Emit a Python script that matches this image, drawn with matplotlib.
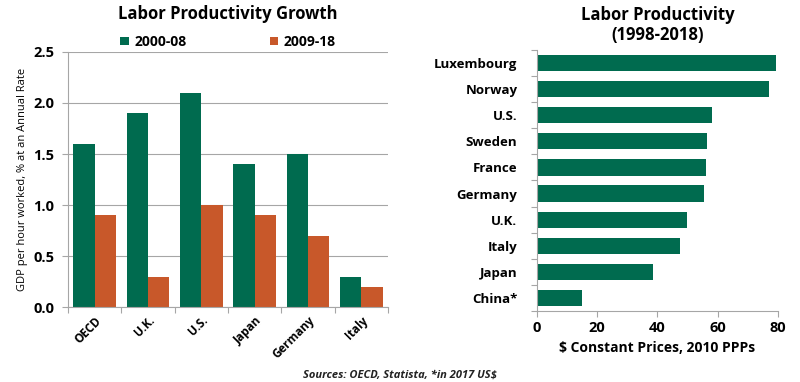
import numpy as np
import matplotlib
matplotlib.use('Agg')
import matplotlib.pyplot as plt

plt.rcParams['font.family'] = ['Open Sans', 'DejaVu Sans']

growth_countries = ['OECD', 'U.K.', 'U.S.', 'Japan', 'Germany', 'Italy']
growth_2000_08 = [1.6, 1.9, 2.1, 1.4, 1.5, 0.3]
growth_2009_18 = [0.9, 0.3, 1.0, 0.9, 0.7, 0.2]

level_countries = ['Luxembourg', 'Norway', 'U.S.', 'Sweden', 'France',
                   'Germany', 'U.K.', 'Italy', 'Japan', 'China*']
level_values = [79.4, 77.0, 58.0, 56.5, 56.2, 55.5, 49.8, 47.5, 38.4, 15.0]

green = '#006B4F'
orange = '#C8582A'
axis_gray = '#A6A6A6'

fig = plt.figure(figsize=(8, 3.82), dpi=100)

# left chart: growth
ax1 = fig.add_axes([0.085, 0.196, 0.40, 0.668])
x = np.arange(len(growth_countries))
w = 0.4
ax1.bar(x - w / 2, growth_2000_08, w, color=green, label='2000-08')
ax1.bar(x + w / 2, growth_2009_18, w, color=orange, label='2009-18')
ax1.set_xlim(-0.5, len(growth_countries) - 0.5)
ax1.set_ylim(0, 2.5)
ax1.set_yticks(np.arange(0, 2.51, 0.5))
ax1.set_yticklabels([f'{v:.1f}' for v in np.arange(0, 2.51, 0.5)],
                    fontsize=10.5, fontweight='bold')
ax1.yaxis.grid(True, color=axis_gray, linewidth=0.8)
ax1.set_axisbelow(True)
ax1.set_xticks(np.arange(-0.5, len(growth_countries), 1))
ax1.set_xticklabels([])
ax1.set_xticks(x, minor=True)
ax1.set_xticklabels(growth_countries, minor=True, rotation=45, ha='right',
                    rotation_mode='anchor', fontsize=8.5, fontweight='bold')
ax1.tick_params(axis='x', which='minor', length=0, pad=5)
ax1.tick_params(axis='x', which='major', length=4, color=axis_gray)
ax1.tick_params(axis='y', length=4, color=axis_gray, pad=6)
for s in ['top', 'right']:
    ax1.spines[s].set_visible(False)
for s in ['left', 'bottom']:
    ax1.spines[s].set_color(axis_gray)
ax1.set_ylabel('GDP per hour worked, % at an Annual Rate', fontsize=8)
ax1.set_title('Labor Productivity Growth', fontsize=12, fontweight='bold', pad=24)
leg = ax1.legend(loc='lower center', bbox_to_anchor=(0.5, 0.99), ncol=2,
                 frameon=False, fontsize=10, handlelength=0.6, handleheight=0.6,
                 columnspacing=6, handletextpad=0.4, borderaxespad=0)
for t in leg.get_texts():
    t.set_fontweight('bold')

# right chart: level
ax2 = fig.add_axes([0.671, 0.186, 0.3015, 0.683])
y = np.arange(len(level_countries))
ax2.barh(y, level_values, 0.62, color=green)
ax2.set_ylim(len(level_countries) - 0.5, -0.5)
ax2.set_xlim(0, 80)
ax2.set_xticks([0, 20, 40, 60, 80])
ax2.set_xticklabels(['0', '20', '40', '60', '80'], fontsize=10.5, fontweight='bold')
ax2.set_yticks(np.arange(-0.5, len(level_countries), 1))
ax2.set_yticklabels([])
ax2.set_yticks(y, minor=True)
ax2.set_yticklabels(level_countries, minor=True, fontsize=9.5, fontweight='bold')
ax2.tick_params(axis='y', which='minor', length=0, pad=14)
ax2.tick_params(axis='y', which='major', length=4, color=axis_gray)
ax2.tick_params(axis='x', length=4, color=axis_gray)
for s in ['top', 'right']:
    ax2.spines[s].set_visible(False)
for s in ['left', 'bottom']:
    ax2.spines[s].set_color(axis_gray)
ax2.set_xlabel('$ Constant Prices, 2010 PPPs', fontsize=10, fontweight='bold')
ax2.set_title('Labor Productivity\n(1998-2018)', fontsize=12, fontweight='bold', pad=7)

fig.text(0.5, 0.012, 'Sources: OECD, Statista, *in 2017 US$', ha='center',
         fontsize=8, fontweight='bold', fontstyle='italic', color='#222222')

fig.savefig('out.png', dpi=100, facecolor='white')
